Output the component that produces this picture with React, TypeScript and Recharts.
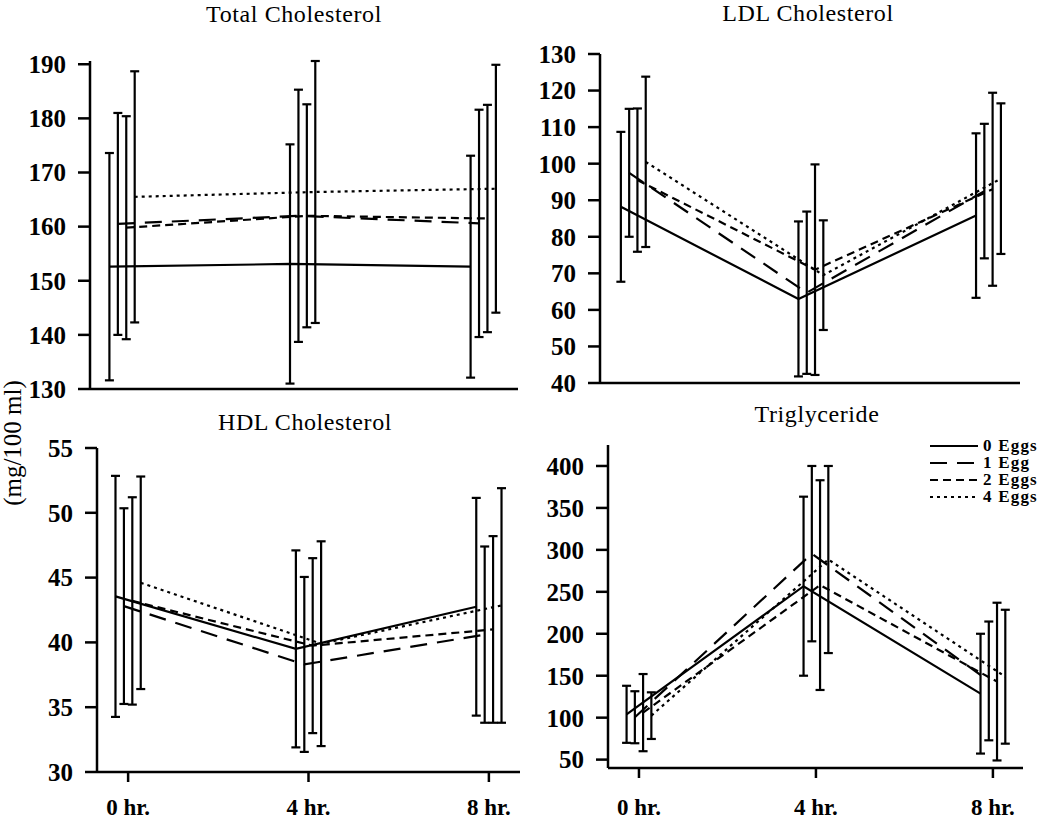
import React from "react";
import { LineChart, Line, XAxis, YAxis, ErrorBar } from "recharts";

// ---------- data ----------
const TIMES = [0, 4, 8];
const TIME_LABELS = ["0 hr.", "4 hr.", "8 hr."];
const SERIES_NAMES = ["0 Eggs", "1 Egg", "2 Eggs", "4 Eggs"];

// Total cholesterol (mean, error) per series at 0/4/8 hr
const tcMeans = [
  [152.6, 153.1, 152.6],
  [160.5, 162.0, 160.6],
  [159.8, 162.0, 161.5],
  [165.5, 166.4, 167.0],
];
const tcErrors = [
  [21.0, 22.1, 20.5],
  [20.5, 23.3, 21.0],
  [20.6, 20.6, 21.0],
  [23.2, 24.2, 22.9],
];
const tcTicks = [130, 140, 150, 160, 170, 180, 190];

// LDL cholesterol
const ldlMeans = [
  [88.2, 63.0, 85.8],
  [97.5, 64.7, 92.5],
  [95.5, 71.0, 93.0],
  [100.5, 69.5, 95.9],
];
const ldlErrors = [
  [20.5, 21.2, 22.5],
  [17.5, 22.2, 18.4],
  [19.6, 28.8, 26.4],
  [23.3, 15.0, 20.6],
];
const ldlTicks = [40, 50, 60, 70, 80, 90, 100, 110, 120, 130];

// HDL cholesterol
const hdlMeans = [
  [43.55, 39.5, 42.75],
  [42.8, 38.3, 40.6],
  [43.2, 39.75, 41.0],
  [44.6, 39.9, 42.85],
];
const hdlErrors = [
  [9.3, 7.6, 8.4],
  [7.55, 6.75, 6.8],
  [8.0, 6.75, 7.2],
  [8.2, 7.9, 9.05],
];
const hdlTicks = [30, 35, 40, 45, 50, 55];

// Triglyceride
const tgMeans = [
  [104, 256.7, 128.6],
  [100.5, 295.5, 143.8],
  [106, 258, 143],
  [102.4, 288.5, 148.8],
];
const tgErrors = [
  [34, 106.7, 71.4],
  [31, 104.5, 70.8],
  [46, 125, 94],
  [27.8, 111.5, 79.8],
];
const tgTicks = [50, 100, 150, 200, 250, 300, 350, 400];

// ---------- styling / layout ----------
const FONT = '"Liberation Serif", "Times New Roman", serif';
const DASHES = ["0", "17 10", "8 5", "3 4"];
const SERIES_SHIFT = [-0.28, -0.093, 0.093, 0.28]; // dodge in hours

type PanelCfg = {
  title: string;
  titleX: number;
  titleY: number;
  means: number[][];
  errs: number[][];
  yTicks: number[];
  yDomain: [number, number];
  xDomain: [number, number];
  plotLeft: number;
  plotTop: number;
  plotW: number;
  plotH: number;
  showX: boolean;
  xLabelGap: number;
};

const PANELS: PanelCfg[] = [
  {
    title: "Total Cholesterol", titleX: 294, titleY: 22,
    means: tcMeans, errs: tcErrors, yTicks: tcTicks, yDomain: [130, 190],
    xDomain: [-0.71, 8.77], plotLeft: 90, plotTop: 61, plotW: 428, plotH: 328,
    showX: false, xLabelGap: 0,
  },
  {
    title: "LDL Cholesterol", titleX: 808, titleY: 21,
    means: ldlMeans, errs: ldlErrors, yTicks: ldlTicks, yDomain: [40, 130],
    xDomain: [-0.75, 8.71], plotLeft: 600, plotTop: 54, plotW: 420, plotH: 329,
    showX: false, xLabelGap: 0,
  },
  {
    title: "HDL Cholesterol", titleX: 305, titleY: 430,
    means: hdlMeans, errs: hdlErrors, yTicks: hdlTicks, yDomain: [30, 55],
    xDomain: [-0.69, 8.69], plotLeft: 97, plotTop: 448, plotW: 423, plotH: 324,
    showX: true, xLabelGap: 17,
  },
  {
    title: "Triglyceride", titleX: 817, titleY: 422,
    means: tgMeans, errs: tgErrors, yTicks: tgTicks, yDomain: [40, 425],
    xDomain: [-0.7, 8.68], plotLeft: 608, plotTop: 445, plotW: 415, plotH: 323,
    showX: true, xLabelGap: 21,
  },
];

function seriesData(means: number[], errs: number[], i: number) {
  return TIMES.map((t, k) => ({ x: t + SERIES_SHIFT[i], y: means[k], e: errs[k] }));
}

function Panel({ cfg }: { cfg: PanelCfg }) {
  const YW = 80;
  const TOP = 14;
  const XH = cfg.showX ? 56 : 2;
  const BOTTOM = cfg.showX ? 0 : 16;
  const width = YW + cfg.plotW + 6;
  const height = TOP + cfg.plotH + XH + BOTTOM;
  return (
    <div style={{ position: "absolute", left: cfg.plotLeft - YW, top: cfg.plotTop - TOP }}>
      <LineChart width={width} height={height} margin={{ top: TOP, right: 6, left: 0, bottom: BOTTOM }}>
        <XAxis
          type="number"
          dataKey="x"
          domain={cfg.xDomain}
          ticks={TIMES}
          interval={0}
          height={XH}
          stroke="#000"
          strokeWidth={2.5}
          tickLine={cfg.showX ? { stroke: "#000", strokeWidth: 2.5 } : false}
          tickSize={10}
          tickMargin={cfg.xLabelGap}
          tick={cfg.showX ? { fill: "#000", fontSize: 23, fontFamily: FONT, fontWeight: "bold" } : false}
          tickFormatter={(v: number) => TIME_LABELS[TIMES.indexOf(v)] ?? ""}
        />
        <YAxis
          type="number"
          domain={cfg.yDomain}
          ticks={cfg.yTicks}
          interval={0}
          width={YW}
          stroke="#000"
          strokeWidth={2.5}
          tickLine={{ stroke: "#000", strokeWidth: 2.5 }}
          tickSize={12}
          tickMargin={12}
          tick={{ fill: "#000", fontSize: 25, fontFamily: FONT, fontWeight: "bold" }}
        />
        {SERIES_NAMES.map((name, i) => (
          <Line
            key={name}
            name={name}
            data={seriesData(cfg.means[i], cfg.errs[i], i)}
            dataKey="y"
            type="linear"
            stroke="#000"
            strokeWidth={2.2}
            strokeDasharray={DASHES[i]}
            dot={false}
            activeDot={false}
            isAnimationActive={false}
          >
            <ErrorBar dataKey="e" direction="y" width={4.5} stroke="#000" strokeWidth={2.2} isAnimationActive={false} />
          </Line>
        ))}
      </LineChart>
    </div>
  );
}

const LEGEND_ROWS = [451, 468, 485, 502];

export default function App() {
  return (
    <div
      style={{
        position: "absolute",
        left: 0,
        top: 0,
        width: 1050,
        height: 820,
        background: "#fff",
        overflow: "hidden",
        fontFamily: FONT,
      }}
    >
      {PANELS.map((p) => (
        <Panel key={p.title} cfg={p} />
      ))}
      <svg width={1050} height={820} style={{ position: "absolute", left: 0, top: 0, pointerEvents: "none" }}>
        {PANELS.map((p) => (
          <text key={p.title} x={p.titleX} y={p.titleY} textAnchor="middle" fontFamily={FONT} fontSize={24} letterSpacing={0.6} fill="#000">
            {p.title}
          </text>
        ))}
        <text transform="translate(21,443) rotate(-90)" textAnchor="middle" fontFamily={FONT} fontSize={25} fill="#000">
          (mg/100 ml)
        </text>
        {SERIES_NAMES.map((name, i) => (
          <g key={name}>
            <line
              x1={930}
              x2={978}
              y1={LEGEND_ROWS[i] - 5}
              y2={LEGEND_ROWS[i] - 5}
              stroke="#000"
              strokeWidth={2.2}
              strokeDasharray={DASHES[i]}
            />
            <text x={983} y={LEGEND_ROWS[i]} fontFamily={FONT} fontSize={17} fontWeight="bold" letterSpacing={1.2} fill="#000">
              {name}
            </text>
          </g>
        ))}
      </svg>
    </div>
  );
}
